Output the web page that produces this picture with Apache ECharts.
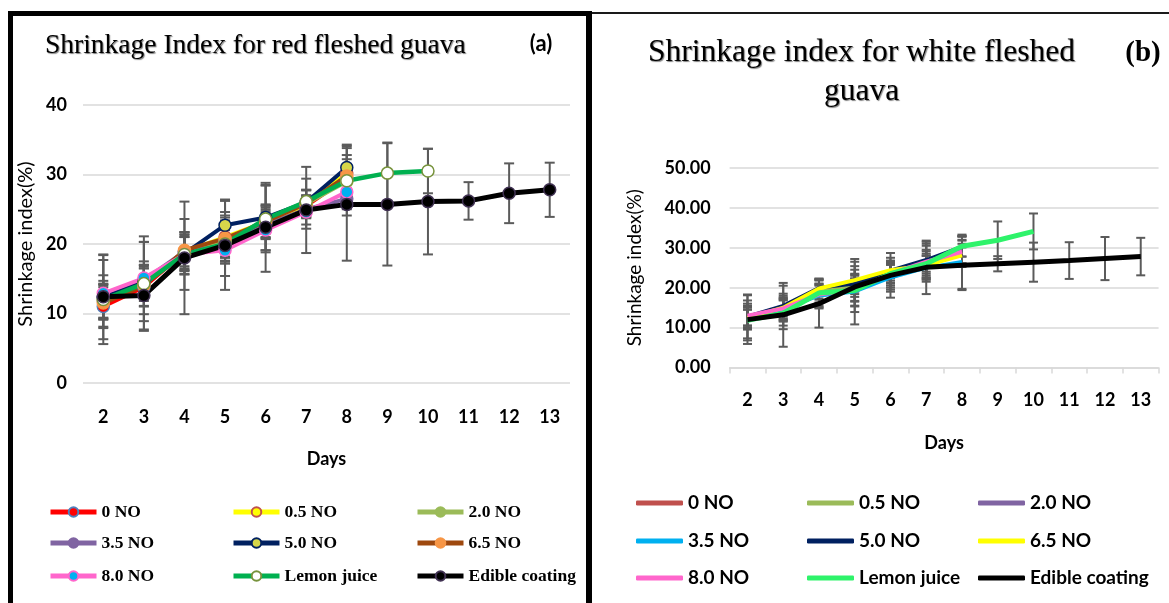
<!DOCTYPE html>
<html>
<head>
<meta charset="utf-8">
<script src="https://cdn.jsdelivr.net/npm/echarts@6/dist/echarts.min.js"></script>
<style>
html,body{margin:0;padding:0;background:#fff;width:1169px;height:603px;overflow:hidden;}
#ca{position:absolute;left:0;top:0;width:592px;height:603px;}
#cb{position:absolute;left:592px;top:0;width:577px;height:603px;}
</style>
</head>
<body>
<div id="ca"></div>
<div id="cb"></div>
<script>
// ---------- shared categories ----------
const days = ['2','3','4','5','6','7','8','9','10','11','12','13'];
const seriesNames = ['0 NO','0.5 NO','2.0 NO','3.5 NO','5.0 NO','6.5 NO','8.0 NO','Lemon juice','Edible coating'];

// ---------- panel (a): red fleshed guava ----------
const a_0NO    = [11.0, 13.8, 18.8, 20.5, 23.0, 25.5, 29.5];
const a_05NO   = [11.8, 14.3, 18.9, 21.0, 23.2, 25.6, 30.2];
const a_20NO   = [12.0, 14.5, 18.7, 20.3, 23.5, 25.8, 29.0];
const a_35NO   = [12.5, 14.8, 18.9, 19.8, 22.8, 25.0, 26.5];
const a_50NO   = [12.3, 14.6, 18.6, 22.7, 23.8, 26.0, 31.0];
const a_65NO   = [11.5, 14.0, 19.1, 20.8, 23.2, 25.8, 29.8];
const a_80NO   = [12.9, 15.1, 18.5, 19.1, 22.0, 24.6, 27.5];
const a_lemon  = [12.0, 14.3, 18.5, 20.0, 23.6, 26.1, 29.1, 30.2, 30.5];
const a_edible = [12.4, 12.6, 18.0, 19.8, 22.4, 24.9, 25.7, 25.7, 26.1, 26.2, 27.3, 27.8];
// error (± half-length)
const ea_0NO    = [3.1, 2.7, 2.5, 2.5, 2.2, 1.5, 2.0];
const ea_05NO   = [2.4, 2.5, 2.1, 2.8, 2.3, 1.2, 2.6];
const ea_20NO   = [2.7, 2.0, 3.0, 3.1, 2.0, 2.0, 2.3];
const ea_35NO   = [1.8, 2.2, 2.8, 2.2, 1.8, 1.3, 1.5];
const ea_50NO   = [3.2, 5.7, 2.4, 3.7, 4.7, 1.8, 3.3];
const ea_65NO   = [2.3, 3.0, 2.6, 3.3, 2.5, 1.9, 2.4];
const ea_80NO   = [4.8, 5.2, 2.9, 1.9, 2.9, 2.4, 2.0];
const ea_lemon  = [6.4, 6.8, 5.1, 4.6, 4.8, 3.3, 5.0, 4.4, 3.2];
const ea_edible = [6.1, 4.9, 8.1, 6.4, 6.4, 6.2, 8.1, 8.8, 7.6, 2.7, 4.3, 3.9];

// ---------- panel (b): white fleshed guava ----------
const b_0NO    = [12.5, 14.8, 18.5, 20.0, 23.5, 26.0, 28.5];
const b_05NO   = [12.5, 14.5, 19.0, 20.5, 23.5, 26.0, 29.0];
const b_20NO   = [12.5, 15.0, 18.0, 19.5, 23.0, 26.5, 29.5];
const b_35NO   = [12.5, 14.5, 18.0, 19.0, 22.5, 25.0, 26.5];
const b_50NO   = [12.8, 15.5, 20.0, 21.0, 24.3, 27.0, 30.3];
const b_65NO   = [12.5, 15.0, 19.8, 21.9, 24.4, 25.6, 28.1];
const b_80NO   = [13.0, 14.8, 18.3, 19.5, 23.5, 26.5, 29.0];
const b_lemon  = [11.8, 13.6, 18.7, 19.3, 23.5, 26.0, 30.4, 31.9, 34.1];
const b_edible = [12.0, 13.2, 16.0, 20.2, 23.1, 25.1, 25.6, 26.0, 26.4, 26.8, 27.3, 27.8];
const eb_0NO    = [2.0, 2.5, 2.2, 2.3, 2.5, 2.0, 2.5];
const eb_05NO   = [2.5, 2.8, 2.0, 4.0, 2.2, 2.5, 3.0];
const eb_20NO   = [3.0, 3.5, 2.5, 2.8, 3.0, 4.0, 3.5];
const eb_35NO   = [2.8, 2.5, 3.0, 8.2, 3.5, 3.0, 6.8];
const eb_50NO   = [5.5, 5.0, 2.0, 2.0, 2.5, 4.0, 2.5];
const eb_65NO   = [2.0, 3.0, 2.5, 3.5, 2.0, 3.5, 2.0];
const eb_80NO   = [3.0, 2.0, 3.5, 4.0, 4.0, 5.0, 3.8];
const eb_lemon  = [5.0, 4.0, 3.5, 4.0, 3.0, 3.5, 2.6, 4.7, 4.5];
const eb_edible = [6.1, 8.0, 6.0, 6.3, 5.6, 6.7, 6.2, 1.9, 4.9, 4.6, 5.4, 4.7];

// ---------- styles ----------
const aStyle = [
  {line:'#FF0000', fill:'#FF0000', border:'#4F81BD', w:4},
  {line:'#FFFF00', fill:'#FFFF00', border:'#C0504D', w:4},
  {line:'#9BBB59', fill:'#9BBB59', border:'#9BBB59', w:4},
  {line:'#8064A2', fill:'#8064A2', border:'#8064A2', w:4},
  {line:'#002060', fill:'#D6D64A', border:'#002060', w:4},
  {line:'#9E480E', fill:'#F79646', border:'#F79646', w:4},
  {line:'#FF66CC', fill:'#00B0F0', border:'#FF66CC', w:4},
  {line:'#00B050', fill:'#FFFFFF', border:'#77933C', w:4.5},
  {line:'#000000', fill:'#000000', border:'#403152', w:5}
];
const bStyle = [
  {line:'#C0504D', w:3.5},
  {line:'#9BBB59', w:3.5},
  {line:'#8064A2', w:3.5},
  {line:'#00B0F0', w:3.5},
  {line:'#002060', w:3.5},
  {line:'#FFFF00', w:4},
  {line:'#FF66CC', w:4},
  {line:'#2EF36A', w:5},
  {line:'#000000', w:5}
];

const aVals = [a_0NO,a_05NO,a_20NO,a_35NO,a_50NO,a_65NO,a_80NO,a_lemon,a_edible];
const aErrs = [ea_0NO,ea_05NO,ea_20NO,ea_35NO,ea_50NO,ea_65NO,ea_80NO,ea_lemon,ea_edible];
const bVals = [b_0NO,b_05NO,b_20NO,b_35NO,b_50NO,b_65NO,b_80NO,b_lemon,b_edible];
const bErrs = [eb_0NO,eb_05NO,eb_20NO,eb_35NO,eb_50NO,eb_65NO,eb_80NO,eb_lemon,eb_edible];

function errData(vals, errs){
  const out = [];
  vals.forEach((v,si)=>{
    v.forEach((y,i)=>{ out.push([i, y-errs[si][i], y+errs[si][i]]); });
  });
  return out;
}
function errSeries(vals, errs, cap, width){
  return {
    type:'custom', name:'err', z:1, silent:true,
    encode:{x:0, y:[1,2]},
    data: errData(vals, errs),
    renderItem:function(params, api){
      const lo = api.coord([api.value(0), api.value(1)]);
      const hi = api.coord([api.value(0), api.value(2)]);
      const st = {stroke:'#5B5B5B', lineWidth:width};
      return {type:'group', children:[
        {type:'line', shape:{x1:lo[0],y1:lo[1],x2:hi[0],y2:hi[1]}, style:st},
        {type:'line', shape:{x1:lo[0]-cap,y1:lo[1],x2:lo[0]+cap,y2:lo[1]}, style:st},
        {type:'line', shape:{x1:hi[0]-cap,y1:hi[1],x2:hi[0]+cap,y2:hi[1]}, style:st}
      ]};
    }
  };
}

const sansBold = {fontFamily:'Lato', fontWeight:'bold', color:'#000'};

// ================= chart A =================
const chartA = echarts.init(document.getElementById('ca'), null, {renderer:'canvas'});
const aSeries = seriesNames.map((n,i)=>({
  type:'line', name:n, data:aVals[i], symbol:'circle', symbolSize:12, z:2,
  lineStyle:{color:aStyle[i].line, width:aStyle[i].w},
  itemStyle:{color:aStyle[i].fill, borderColor:aStyle[i].border, borderWidth:1.5}
}));
aSeries.unshift(errSeries(aVals, aErrs, 5, 2));
const aColLeft = [48, 231, 415];
const aRowTop = [503, 534, 567];
const legendsA = seriesNames.map((n,i)=>({
  data:[n], left:aColLeft[i%3], top:aRowTop[Math.floor(i/3)], orient:'horizontal', padding:0,
  itemWidth:46, itemHeight:12, selectedMode:false,
  lineStyle:{width:5},
  textStyle:{fontFamily:'Liberation Serif', fontWeight:'bold', fontSize:17.5, color:'#000', lineHeight:18}
}));
chartA.setOption({
  animation:false,
  backgroundColor:'#fff',
  grid:{left:83, right:22, top:105, bottom:220},
  legend:legendsA,
  xAxis:{type:'category', data:days, boundaryGap:true,
    axisLine:{show:false}, axisTick:{show:false},
    axisLabel:Object.assign({fontSize:18, margin:25}, sansBold),
    name:'Days', nameLocation:'middle', nameGap:67,
    nameTextStyle:Object.assign({fontSize:18}, sansBold)},
  yAxis:{type:'value', min:0, max:40, interval:10,
    axisLine:{show:false}, axisTick:{show:false},
    axisLabel:Object.assign({fontSize:18, margin:16}, sansBold),
    splitLine:{lineStyle:{color:'#D9D9D9', width:1.5}},
    name:'Shrinkage index(%)', nameLocation:'middle', nameGap:31,
    nameTextStyle:{fontFamily:'Lato', fontSize:20, color:'#000'}},
  series:aSeries,
  graphic:[
    {type:'rect', shape:{x:8,y:11,width:5,height:600}, style:{fill:'#000'}},
    {type:'rect', shape:{x:8,y:11,width:584,height:5}, style:{fill:'#000'}},
    {type:'rect', shape:{x:586,y:11,width:6,height:600}, style:{fill:'#000'}},
    {type:'text', x:45, y:46, style:{text:'Shrinkage Index for red fleshed guava', font:'27.5px "Liberation Serif"', fill:'#000', textVerticalAlign:'middle',
      textShadowColor:'rgba(0,0,0,0.5)', textShadowOffsetX:1, textShadowOffsetY:1, textShadowBlur:1}},
    {type:'text', x:541, y:44, style:{text:'(a)', font:'bold 22px Lato', fill:'#000', textAlign:'center', textVerticalAlign:'middle'}}
  ]
});

// ================= chart B =================
const chartB = echarts.init(document.getElementById('cb'), null, {renderer:'canvas'});
const bSeries = seriesNames.map((n,i)=>({
  type:'line', name:n, data:bVals[i], symbol:'none', z:2,
  lineStyle:{color:bStyle[i].line, width:bStyle[i].w},
  itemStyle:{color:bStyle[i].line}
}));
bSeries.unshift(errSeries(bVals, bErrs, 4.5, 2));
const bColLeft = [44, 215, 386];
const bRowTop = [493, 531, 568];
const legendsB = seriesNames.map((n,i)=>({
  data:[n], left:bColLeft[i%3], top:bRowTop[Math.floor(i/3)], orient:'horizontal', padding:0,
  icon:'roundRect', itemWidth:47, itemHeight:5, selectedMode:false,
  textStyle:{fontFamily:'Lato', fontWeight:'bold', fontSize:19, color:'#000', lineHeight:20}
}));
chartB.setOption({
  animation:false,
  backgroundColor:'#fff',
  grid:{left:137.6, right:10.4, top:168, bottom:235.5},
  legend:legendsB,
  xAxis:{type:'category', data:days, boundaryGap:true,
    axisLine:{show:true, lineStyle:{color:'#D9D9D9', width:1.5}},
    axisTick:{show:true, length:6, lineStyle:{color:'#D9D9D9', width:1.5}},
    axisLabel:Object.assign({fontSize:18, margin:24}, sansBold),
    name:'Days', nameLocation:'middle', nameGap:67,
    nameTextStyle:Object.assign({fontSize:18}, sansBold)},
  yAxis:{type:'value', min:0, max:50, interval:10,
    axisLine:{show:false}, axisTick:{show:false},
    axisLabel:Object.assign({fontSize:18, margin:19, formatter:v=>v.toFixed(2)}, sansBold),
    splitLine:{lineStyle:{color:'#D9D9D9', width:1.5}},
    name:'Shrinkage index(%)', nameLocation:'middle', nameGap:85,
    nameTextStyle:{fontFamily:'Lato', fontSize:19, color:'#000'}},
  series:bSeries,
  graphic:[
    {type:'rect', shape:{x:0,y:12,width:577,height:2}, style:{fill:'#1A1A1A'}},
    {type:'text', x:269.5, y:72, style:{text:'Shrinkage index for white fleshed\nguava', font:'31.5px "Liberation Serif"', lineHeight:39, fill:'#000', textAlign:'center', textVerticalAlign:'middle',
      textShadowColor:'rgba(0,0,0,0.5)', textShadowOffsetX:1, textShadowOffsetY:1, textShadowBlur:1}},
    {type:'text', x:551, y:54, style:{text:'(b)', font:'bold 29px "Liberation Serif"', fill:'#000', textAlign:'center', textVerticalAlign:'middle'}}
  ]
});
</script>
</body>
</html>
